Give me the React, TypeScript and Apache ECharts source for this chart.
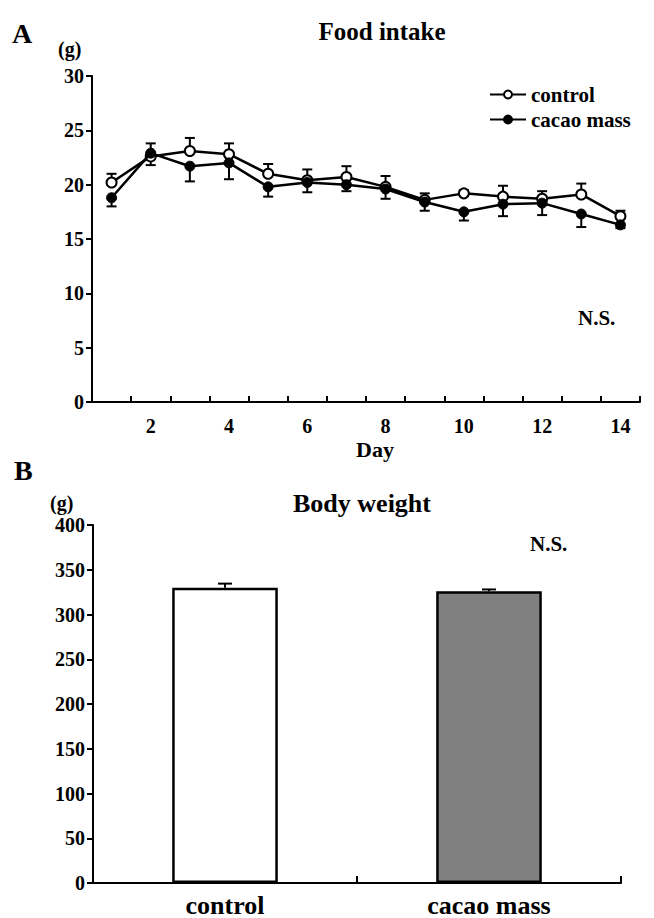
import React, { useEffect, useRef } from "react";
import * as echarts from "echarts";

const days = ["1", "2", "3", "4", "5", "6", "7", "8", "9", "10", "11", "12", "13", "14"];
const controlMeans = [20.2, 22.6, 23.1, 22.8, 21.0, 20.4, 20.7, 19.8, 18.6, 19.2, 18.9, 18.7, 19.1, 17.1];
const controlSem = [0.8, 1.2, 1.2, 1.0, 0.9, 1.0, 1.0, 1.0, 0.6, 0.3, 1.0, 0.7, 1.0, 0.5];
const cacaoMeans = [18.8, 22.9, 21.7, 22.0, 19.8, 20.2, 20.0, 19.6, 18.4, 17.5, 18.2, 18.3, 17.3, 16.3];
const cacaoSem = [0.8, 1.1, 1.4, 1.5, 0.9, 0.9, 0.6, 0.9, 0.8, 0.8, 1.1, 1.1, 1.2, 0.3];

const groups = ["control", "cacao mass"];
const bwMeans = [330, 326];
const bwSem = [4.5, 2];

const FONT = '"Liberation Serif", "Times New Roman", serif';

function errorRender(capHalf: number) {
  return (params: any, api: any) => {
    const x = api.value(0);
    const a = api.coord([x, api.value(1)]);
    const b = api.coord([x, api.value(2)]);
    const st = { stroke: "#000", lineWidth: 2 };
    return {
      type: "group",
      children: [
        { type: "line", shape: { x1: a[0], y1: a[1], x2: b[0], y2: b[1] }, style: st },
        { type: "line", shape: { x1: b[0] - capHalf, y1: b[1], x2: b[0] + capHalf, y2: b[1] }, style: st },
      ],
    };
  };
}

function txt(text: string, x: number, y: number, size: number, align = "left") {
  return {
    type: "text",
    x,
    y,
    style: {
      text,
      fill: "#000",
      fontFamily: FONT,
      fontWeight: "bold",
      fontSize: size,
      textAlign: align,
      textVerticalAlign: "middle",
    },
  };
}

export default function App() {
  const ref = useRef<HTMLDivElement>(null);
  useEffect(() => {
    if (!ref.current) return;
    const chart = echarts.init(ref.current, undefined, { renderer: "svg" });
    const axisLine = { show: true, lineStyle: { color: "#000", width: 2 } };
    const labelStyle = { color: "#000", fontFamily: FONT, fontWeight: "bold" as const };
    chart.setOption({
      animation: false,
      backgroundColor: "#fff",
      grid: [
        { left: 92, top: 76, width: 548, height: 326 },
        { left: 93, top: 525, width: 528, height: 358 },
      ],
      legend: {
        left: 484,
        top: 79,
        orient: "vertical",
        itemWidth: 36,
        itemHeight: 10,
        itemGap: 4,
        data: ["control", "cacao mass"],
        textStyle: { ...labelStyle, fontSize: 21 },
      },
      xAxis: [
        {
          type: "category",
          gridIndex: 0,
          data: days,
          boundaryGap: true,
          axisLine,
          axisTick: { show: true, inside: true, length: 6, interval: 0, lineStyle: { color: "#000", width: 2 } },
          axisLabel: {
            ...labelStyle,
            fontSize: 20,
            margin: 14,
            interval: (i: number) => i % 2 === 1,
          },
          splitLine: { show: false },
        },
        {
          type: "category",
          gridIndex: 1,
          data: groups,
          boundaryGap: true,
          axisLine,
          axisTick: { show: true, inside: true, length: 7, interval: 0, lineStyle: { color: "#000", width: 2 } },
          axisLabel: { ...labelStyle, fontSize: 26, margin: 9 },
          splitLine: { show: false },
        },
      ],
      yAxis: [
        {
          type: "value",
          gridIndex: 0,
          min: 0,
          max: 30,
          interval: 5,
          axisLine,
          axisTick: { show: true, length: 6, lineStyle: { color: "#000", width: 2 } },
          axisLabel: { ...labelStyle, fontSize: 20, margin: 8 },
          splitLine: { show: false },
        },
        {
          type: "value",
          gridIndex: 1,
          min: 0,
          max: 400,
          interval: 50,
          axisLine,
          axisTick: { show: true, length: 6, lineStyle: { color: "#000", width: 2 } },
          axisLabel: { ...labelStyle, fontSize: 20, margin: 8 },
          splitLine: { show: false },
        },
      ],
      series: [
        {
          type: "custom",
          name: "controlErr",
          xAxisIndex: 0,
          yAxisIndex: 0,
          z: 1,
          renderItem: errorRender(5),
          data: controlMeans.map((m, i) => [i, m, m + controlSem[i]]),
        },
        {
          type: "custom",
          name: "cacaoErr",
          xAxisIndex: 0,
          yAxisIndex: 0,
          z: 1,
          renderItem: errorRender(5),
          data: cacaoMeans.map((m, i) => [i, m, m - cacaoSem[i]]),
        },
        {
          type: "line",
          name: "control",
          xAxisIndex: 0,
          yAxisIndex: 0,
          z: 3,
          data: controlMeans,
          symbol: "circle",
          symbolSize: 10,
          lineStyle: { color: "#000", width: 2.5 },
          itemStyle: { color: "#fff", borderColor: "#000", borderWidth: 2 },
        },
        {
          type: "line",
          name: "cacao mass",
          xAxisIndex: 0,
          yAxisIndex: 0,
          z: 4,
          data: cacaoMeans,
          symbol: "circle",
          symbolSize: 10,
          lineStyle: { color: "#000", width: 2.5 },
          itemStyle: { color: "#000", borderColor: "#000", borderWidth: 1 },
        },
        {
          type: "custom",
          name: "bwErr",
          xAxisIndex: 1,
          yAxisIndex: 1,
          z: 1,
          renderItem: errorRender(7),
          data: bwMeans.map((m, i) => [i, m, m + bwSem[i]]),
        },
        {
          type: "bar",
          name: "Body weight",
          xAxisIndex: 1,
          yAxisIndex: 1,
          z: 3,
          barWidth: "40%",
          data: bwMeans.map((v, i) => ({
            value: v,
            itemStyle: { color: i === 0 ? "#fff" : "#808080", borderColor: "#000", borderWidth: 2.5 },
          })),
        },
      ],
      graphic: [
        txt("A", 12, 33, 28),
        txt("(g)", 58, 49, 20),
        txt("Food intake", 382, 31, 25, "center"),
        txt("N.S.", 578, 318, 21),
        txt("Day", 375, 449, 22, "center"),
        txt("B", 14, 470, 28),
        txt("(g)", 50, 503, 20),
        txt("Body weight", 362, 503, 26, "center"),
        txt("N.S.", 530, 544, 21),
      ],
    });
    return () => chart.dispose();
  }, []);
  return (
    <div
      ref={ref}
      style={{ position: "fixed", left: 0, top: 0, width: 654, height: 918, background: "#fff" }}
    />
  );
}
